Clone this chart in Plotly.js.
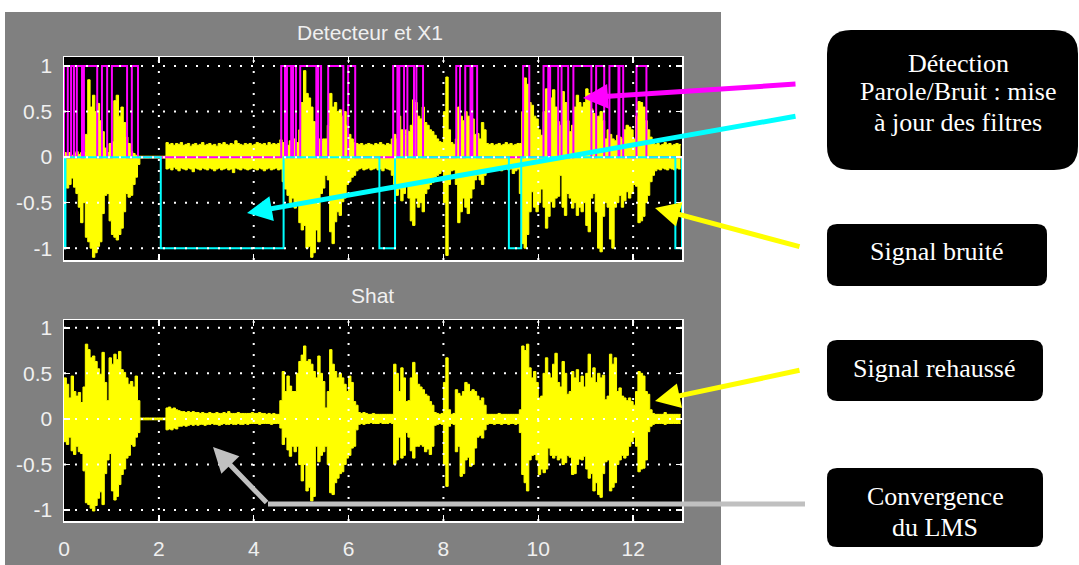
<!DOCTYPE html>
<html>
<head>
<meta charset="utf-8">
<script src="https://cdn.plot.ly/plotly-3.0.1.min.js"></script>
<style>
  html, body { margin:0; padding:0; background:#ffffff; }
  #wrap { position:relative; width:1079px; height:565px; overflow:hidden; }
  #fig { position:absolute; left:5px; top:12px; width:716px; height:553px; background:#808080; }
  #chart { position:absolute; left:0; top:0; width:1079px; height:565px; }
</style>
</head>
<body>
<div id="wrap"><div id="fig"></div><div id="chart"></div></div>
<script>
// ---------------- DATA ----------------
const sampleStep = 0.05;           // seconds between envelope samples
const xTickVals = [0, 2, 4, 6, 8, 10, 12];
const xTickText = ["0", "2", "4", "6", "8", "10", "12"];
const yTickVals = [-1, -0.5, 0, 0.5, 1];
const yTickText = ["-1", "-0.5", "0", "0.5", "1"];

// X1 (noisy signal) upper / lower envelope
const x1Upper = [
 0.05,0.03,0.05,0.02,0.04,0.06,0.03,0.05,0.06,0.25,0.85,0.55,0.68,0.50,0.59,0.40,0.28,0.10,0.05,0.15,
 0.17,0.62,0.68,0.45,0.55,0.38,0.22,0.15,0.06,0.04,0.02,0.01,0.01,0.01,0.01,0.01,0.01,0.01,0.01,0.01,
 0.01,0.01,0.01,0.16,0.14,0.15,0.13,0.15,0.14,0.16,0.13,0.14,0.15,0.12,0.14,0.15,0.13,0.14,0.16,0.13,
 0.14,0.15,0.13,0.14,0.12,0.15,0.14,0.16,0.14,0.13,0.15,0.14,0.18,0.15,0.14,0.13,0.15,0.14,0.15,0.13,
 0.14,0.16,0.15,0.14,0.15,0.13,0.16,0.14,0.15,0.14,0.15,0.19,0.16,0.14,0.13,0.18,0.15,0.20,0.16,0.30,
 0.60,0.95,0.70,0.65,0.55,0.39,0.24,0.20,0.18,0.20,0.20,0.35,0.70,0.55,0.60,0.50,0.52,0.45,0.50,0.35,
 0.25,0.20,0.16,0.15,0.14,0.15,0.13,0.14,0.15,0.14,0.13,0.15,0.14,0.16,0.14,0.13,0.15,0.14,0.20,0.25,
 0.20,0.45,0.30,0.25,0.30,0.28,0.35,0.63,0.60,0.45,0.42,0.55,0.38,0.35,0.30,0.28,0.24,0.20,0.17,0.16,
 0.50,0.88,0.30,0.16,0.14,0.20,0.55,0.45,0.40,0.50,0.45,0.35,0.42,0.25,0.26,0.20,0.38,0.30,0.15,0.14,
 0.15,0.13,0.14,0.15,0.13,0.14,0.16,0.14,0.15,0.13,0.14,0.15,0.15,0.50,0.87,0.80,0.60,0.57,0.45,0.42,
 0.30,0.24,0.50,0.75,0.60,0.65,0.74,0.55,0.39,0.35,0.72,0.60,0.40,0.28,0.35,0.55,0.68,0.60,0.55,0.60,
 0.75,0.70,0.53,0.48,0.41,0.45,0.50,0.40,0.20,0.30,0.25,0.20,0.18,0.24,0.22,0.20,0.30,0.35,0.33,0.30,
 0.20,0.45,0.61,0.60,0.55,0.40,0.30,0.22,0.17,0.14,0.15,0.13,0.14,0.16,0.14,0.15,0.13,0.14,0.15,0.14,
 0.13];
const x1Lower = [
 -0.02,-0.34,-0.30,-0.23,-0.33,-0.40,-0.55,-0.72,-0.50,-0.88,-0.93,-1.00,-1.10,-1.05,-0.98,-0.93,-0.62,-0.42,-0.40,-0.70,
 -0.85,-0.88,-0.91,-0.85,-0.78,-0.60,-0.40,-0.44,-0.42,-0.30,-0.22,-0.08,-0.01,-0.01,-0.01,-0.01,-0.01,-0.01,-0.01,-0.01,
 -0.01,-0.01,-0.01,-0.13,-0.12,-0.14,-0.11,-0.13,-0.15,-0.12,-0.13,-0.14,-0.12,-0.13,-0.16,-0.12,-0.13,-0.14,-0.12,-0.13,
 -0.14,-0.12,-0.13,-0.15,-0.13,-0.12,-0.14,-0.13,-0.12,-0.14,-0.13,-0.17,-0.12,-0.13,-0.14,-0.12,-0.13,-0.14,-0.13,-0.12,
 -0.13,-0.14,-0.12,-0.13,-0.15,-0.13,-0.12,-0.14,-0.13,-0.12,-0.14,-0.13,-0.27,-0.35,-0.42,-0.50,-0.45,-0.56,-0.50,-0.72,
 -0.80,-0.75,-1.00,-0.98,-1.10,-1.05,-0.80,-0.93,-0.40,-0.34,-0.20,-0.25,-0.82,-0.95,-0.71,-0.60,-0.64,-0.49,-0.45,-0.30,
 -0.27,-0.22,-0.20,-0.15,-0.13,-0.12,-0.14,-0.13,-0.12,-0.14,-0.13,-0.12,-0.14,-0.13,-0.15,-0.12,-0.13,-0.14,-0.20,-0.30,
 -0.42,-0.35,-0.48,-0.40,-0.30,-0.45,-0.70,-0.75,-0.45,-0.55,-0.50,-0.60,-0.40,-0.35,-0.30,-0.28,-0.22,-0.20,-0.18,-0.15,
 -0.50,-1.08,-0.30,-0.15,-0.14,-0.30,-0.72,-0.60,-0.45,-0.55,-0.62,-0.45,-0.35,-0.25,-0.20,-0.25,-0.30,-0.20,-0.13,-0.12,
 -0.13,-0.14,-0.12,-0.13,-0.15,-0.13,-0.12,-0.14,-0.13,-0.18,-0.15,-0.13,-0.40,-0.95,-1.00,-0.85,-0.60,-0.38,-0.55,-0.60,
 -0.50,-0.35,-0.55,-0.78,-0.65,-0.49,-0.55,-0.45,-0.43,-0.20,-0.55,-0.64,-0.40,-0.45,-0.56,-0.50,-0.64,-0.55,-0.60,-0.50,
 -0.75,-0.82,-0.45,-0.40,-0.60,-1.00,-1.04,-0.65,-0.50,-0.55,-0.90,-1.00,-0.55,-0.50,-0.42,-0.55,-0.48,-0.38,-0.45,-0.40,
 -0.30,-0.32,-0.72,-0.70,-0.65,-0.50,-0.42,-0.27,-0.20,-0.15,-0.13,-0.14,-0.12,-0.13,-0.14,-0.12,-0.13,-0.14,-0.12,-0.13,
 -0.13];

// Shat (enhanced signal) upper / lower envelope
const shatUpper = [
 0.45,0.38,0.23,0.47,0.30,0.25,0.29,0.18,0.35,0.82,0.76,0.67,0.69,0.63,0.55,0.49,0.73,0.40,0.20,0.67,
 0.60,0.71,0.65,0.74,0.54,0.51,0.45,0.38,0.41,0.35,0.47,0.20,0.01,0.01,0.01,0.01,0.01,0.01,0.01,0.01,
 0.01,0.01,0.01,0.12,0.13,0.11,0.12,0.10,0.09,0.08,0.08,0.07,0.08,0.07,0.08,0.07,0.07,0.06,0.07,0.06,
 0.06,0.07,0.06,0.06,0.07,0.06,0.06,0.07,0.06,0.08,0.06,0.06,0.06,0.07,0.06,0.06,0.06,0.06,0.06,0.07,
 0.06,0.06,0.07,0.06,0.06,0.05,0.06,0.05,0.06,0.05,0.05,0.20,0.52,0.30,0.47,0.36,0.30,0.30,0.50,0.63,
 0.70,0.80,0.63,0.65,0.60,0.52,0.45,0.69,0.50,0.41,0.12,0.30,0.76,0.60,0.52,0.45,0.50,0.45,0.38,0.30,
 0.47,0.40,0.19,0.15,0.07,0.06,0.07,0.06,0.05,0.05,0.06,0.05,0.05,0.05,0.05,0.05,0.05,0.05,0.05,0.60,
 0.50,0.30,0.56,0.45,0.19,0.20,0.45,0.62,0.50,0.38,0.35,0.32,0.27,0.25,0.19,0.15,0.07,0.06,0.05,0.06,
 0.40,0.67,0.10,0.05,0.06,0.32,0.28,0.25,0.30,0.40,0.38,0.30,0.32,0.30,0.25,0.20,0.23,0.15,0.05,0.05,
 0.05,0.05,0.05,0.06,0.05,0.05,0.05,0.05,0.05,0.05,0.05,0.05,0.10,0.80,0.75,0.82,0.56,0.45,0.52,0.40,
 0.23,0.25,0.50,0.67,0.50,0.45,0.60,0.72,0.40,0.35,0.63,0.50,0.27,0.30,0.52,0.45,0.54,0.40,0.47,0.35,
 0.50,0.71,0.45,0.56,0.40,0.50,0.45,0.48,0.21,0.25,0.71,0.60,0.67,0.30,0.34,0.25,0.23,0.20,0.23,0.19,
 0.15,0.30,0.52,0.50,0.47,0.30,0.27,0.10,0.06,0.05,0.05,0.05,0.05,0.07,0.05,0.05,0.05,0.05,0.05,0.05,
 0.05];
const shatLower = [
 -0.25,-0.28,-0.20,-0.35,-0.39,-0.30,-0.36,-0.38,-0.57,-0.92,-0.94,-0.98,-1.01,-0.95,-0.87,-0.80,-0.94,-0.60,-0.45,-0.38,
 -0.79,-0.89,-0.85,-0.72,-0.61,-0.55,-0.43,-0.40,-0.28,-0.30,-0.20,-0.15,-0.01,-0.01,-0.01,-0.01,-0.01,-0.01,-0.01,-0.01,
 -0.01,-0.01,-0.01,-0.12,-0.11,-0.12,-0.10,-0.11,-0.08,-0.08,-0.07,-0.08,-0.07,-0.06,-0.07,-0.06,-0.07,-0.06,-0.06,-0.07,
 -0.06,-0.06,-0.05,-0.06,-0.06,-0.07,-0.06,-0.05,-0.06,-0.06,-0.05,-0.06,-0.06,-0.05,-0.06,-0.06,-0.05,-0.06,-0.05,-0.05,
 -0.05,-0.05,-0.06,-0.05,-0.05,-0.05,-0.05,-0.06,-0.05,-0.05,-0.05,-0.10,-0.28,-0.20,-0.34,-0.41,-0.30,-0.36,-0.30,-0.50,
 -0.68,-0.50,-0.79,-0.75,-0.90,-0.85,-0.30,-0.47,-0.40,-0.36,-0.30,-0.50,-0.81,-0.83,-0.70,-0.65,-0.60,-0.58,-0.50,-0.43,
 -0.40,-0.32,-0.30,-0.12,-0.06,-0.05,-0.06,-0.05,-0.05,-0.04,-0.05,-0.05,-0.05,-0.04,-0.05,-0.05,-0.05,-0.04,-0.05,-0.50,
 -0.45,-0.20,-0.43,-0.40,-0.15,-0.20,-0.35,-0.43,-0.30,-0.30,-0.28,-0.30,-0.36,-0.33,-0.39,-0.30,-0.07,-0.06,-0.05,-0.06,
 -0.50,-0.74,-0.08,-0.05,-0.06,-0.36,-0.30,-0.63,-0.60,-0.45,-0.42,-0.52,-0.50,-0.32,-0.20,-0.18,-0.21,-0.12,-0.06,-0.05,
 -0.05,-0.06,-0.05,-0.05,-0.06,-0.05,-0.05,-0.06,-0.05,-0.05,-0.06,-0.05,-0.15,-0.61,-0.70,-0.79,-0.45,-0.40,-0.39,-0.45,
 -0.61,-0.55,-0.59,-0.55,-0.32,-0.40,-0.43,-0.40,-0.45,-0.43,-0.50,-0.48,-0.40,-0.42,-0.61,-0.60,-0.50,-0.44,-0.45,-0.41,
 -0.55,-0.65,-0.60,-0.79,-0.70,-0.83,-0.86,-0.60,-0.47,-0.45,-0.79,-0.75,-0.70,-0.50,-0.45,-0.40,-0.43,-0.40,-0.30,-0.25,
 -0.20,-0.30,-0.58,-0.55,-0.54,-0.45,-0.14,-0.08,-0.06,-0.05,-0.05,-0.05,-0.05,-0.06,-0.05,-0.05,-0.05,-0.05,-0.05,-0.05,
 -0.05];

// Speech/noise detector: magenta = 1 during these intervals (s)
const speechStart = [0.00,0.15,0.27,0.42,0.80,1.01,1.43, 4.58,4.70,4.83,4.98,5.36,5.57,5.99, 6.94,7.07,7.24,7.43, 8.27,8.46,8.61, 9.68,10.11,10.25,10.49,10.74,11.22,11.50,11.71,12.07];
const speechEnd   = [0.08,0.21,0.38,0.70,0.91,1.33,1.56, 4.66,4.79,4.89,5.32,5.42,5.89,6.14, 7.03,7.17,7.38,7.57, 8.35,8.57,8.71, 9.81,10.21,10.42,10.63,11.12,11.39,11.69,11.79,12.28];
// Noise update: cyan = -1 during these intervals (s)
const noiseStart = [0.00, 2.04, 6.65, 9.38, 12.89];
const noiseEnd   = [0.03, 4.63, 6.98, 9.64, 13.03];
const tEnd = 13.03;

// ---------------- BUILD ----------------
const W = 1079, H = 565;
const px = x => x / W, py = y => 1 - y / H;
const times = x1Upper.map((_, i) => +(i * sampleStep).toFixed(2));

function squareWave(starts, ends, level) {
  const xs = [0], ys = [0];
  for (let i = 0; i < starts.length; i++) {
    xs.push(starts[i], starts[i], ends[i], ends[i]);
    ys.push(0, level, level, 0);
  }
  xs.push(tEnd); ys.push(0);
  return {xs, ys};
}
const mag = squareWave(speechStart, speechEnd, 1);
const cya = squareWave(noiseStart, noiseEnd, -1);

const YEL = '#ffff00';
const sig = {color: YEL, width: 1, shape: 'hv'};
const traces = [
  {x: times, y: x1Lower, xaxis: 'x', yaxis: 'y', mode: 'lines', line: sig},
  {x: times, y: x1Upper, xaxis: 'x', yaxis: 'y', mode: 'lines', line: sig, fill: 'tonexty', fillcolor: YEL},
  {x: mag.xs, y: mag.ys, xaxis: 'x', yaxis: 'y', mode: 'lines', line: {color: '#ff00ff', width: 2}},
  {x: cya.xs, y: cya.ys, xaxis: 'x', yaxis: 'y', mode: 'lines', line: {color: '#00ffff', width: 2}},
  {x: times, y: shatLower, xaxis: 'x2', yaxis: 'y2', mode: 'lines', line: sig},
  {x: times, y: shatUpper, xaxis: 'x2', yaxis: 'y2', mode: 'lines', line: sig, fill: 'tonexty', fillcolor: YEL}
];

const tickFont = {family: 'Liberation Sans, Arial, sans-serif', size: 21, color: '#f0f0f0'};
const xDom = [px(64), px(682)];
function axisBase() {
  return {ticks: 'inside', ticklen: 6, tickwidth: 1.5, tickcolor: '#ffffff',
    showline: true, linecolor: '#ffffff', linewidth: 1.5, mirror: 'ticks',
    showgrid: false, zeroline: false, tickfont: tickFont, fixedrange: true};
}
const layout = {
  width: W, height: H, margin: {l: 0, r: 0, t: 0, b: 0},
  paper_bgcolor: 'rgba(0,0,0,0)', plot_bgcolor: '#000000', showlegend: false,
  xaxis: Object.assign(axisBase(), {domain: xDom, range: [0, tEnd], anchor: 'y', tickvals: xTickVals, showticklabels: false}),
  yaxis: Object.assign(axisBase(), {domain: [py(260), py(57)], range: [-1.13, 1.1], anchor: 'x', tickvals: yTickVals, ticktext: yTickText, ticklabelstandoff: 6}),
  xaxis2: Object.assign(axisBase(), {domain: xDom, range: [0, tEnd], anchor: 'y2', tickvals: xTickVals, ticktext: xTickText, ticklabelstandoff: 8}),
  yaxis2: Object.assign(axisBase(), {domain: [py(521), py(320)], range: [-1.12, 1.085], anchor: 'x2', tickvals: yTickVals, ticktext: yTickText, ticklabelstandoff: 6}),
  shapes: [], annotations: []
};

// dotted grid drawn above traces (MATLAB style)
const gridLine = {color: '#ffffff', width: 2, dash: '2px,9px'};
[['x', 'y'], ['x2', 'y2']].forEach(([xa, ya]) => {
  xTickVals.filter(v => v > 0).forEach(v => layout.shapes.push({type: 'line', layer: 'above', xref: xa, yref: ya + ' domain', x0: v, x1: v, y0: 0, y1: 1, line: gridLine}));
  yTickVals.forEach(v => layout.shapes.push({type: 'line', layer: 'above', xref: xa + ' domain', yref: ya, x0: 0, x1: 1, y0: v, y1: v, line: gridLine}));
});

// rounded black boxes
function roundRect(x0, y0, x1, y1, r) {
  const P = (x, y) => px(x).toFixed(5) + ',' + py(y).toFixed(5);
  return 'M' + P(x0 + r, y0) + ' L' + P(x1 - r, y0) + ' Q' + P(x1, y0) + ' ' + P(x1, y0 + r) +
    ' L' + P(x1, y1 - r) + ' Q' + P(x1, y1) + ' ' + P(x1 - r, y1) + ' L' + P(x0 + r, y1) +
    ' Q' + P(x0, y1) + ' ' + P(x0, y1 - r) + ' L' + P(x0, y0 + r) + ' Q' + P(x0, y0) + ' ' + P(x0 + r, y0) + ' Z';
}
[[827, 30, 1078, 170, 24], [827, 224, 1047, 286, 10], [827, 340, 1043, 401, 10], [827, 468, 1043, 547, 10]].forEach(b => {
  layout.shapes.push({type: 'path', xref: 'paper', yref: 'paper', path: roundRect(...b), fillcolor: '#000000', line: {width: 0}, layer: 'above'});
});

// gray connector segment
layout.shapes.push({type: 'line', xref: 'paper', yref: 'paper', x0: px(805), y0: py(504), x1: px(268), y1: py(504), line: {color: '#c0c0c0', width: 5}, layer: 'above'});

// titles
const titleFont = {family: 'Liberation Sans, Arial, sans-serif', size: 21, color: '#f0f0f0'};
layout.annotations.push({xref: 'paper', yref: 'paper', x: px(370), y: py(32), text: 'Detecteur et X1', showarrow: false, font: titleFont, xanchor: 'center', yanchor: 'middle'});
layout.annotations.push({xref: 'paper', yref: 'paper', x: px(372), y: py(295), text: 'Shat', showarrow: false, font: titleFont, xanchor: 'center', yanchor: 'middle'});

// box texts
const boxFont = {family: 'Liberation Serif, Times New Roman, serif', size: 26, color: '#ffffff'};
[['Détection', 958, 63], ['Parole/Bruit : mise', 958, 92], ['à jour des filtres', 958, 122],
 ['Signal bruité', 937, 252], ['Signal rehaussé', 934, 369], ['Convergence', 935, 496], ['du LMS', 935, 527]].forEach(([t, x, y]) => {
  layout.annotations.push({xref: 'paper', yref: 'paper', x: px(x), y: py(y), text: t, showarrow: false, font: boxFont, xanchor: 'center', yanchor: 'middle'});
});

// arrows: [tailX, tailY, tipX, tipY, color]
[[797, 84, 583, 98, '#ff00ff'], [797, 116, 247, 213, '#00ffff'], [801, 247, 655, 208, '#ffff00'],
 [801, 370, 655, 401, '#ffff00'], [268, 504, 213, 447, '#c0c0c0']].forEach(([tx, ty, hx, hy, c]) => {
  layout.annotations.push({xref: 'paper', yref: 'paper', x: px(hx), y: py(hy), ax: tx - hx, ay: ty - hy,
    axref: 'pixel', ayref: 'pixel', text: '', showarrow: true, arrowhead: 2, arrowsize: 1, arrowwidth: 5, arrowcolor: c, standoff: 0});
});

Plotly.newPlot('chart', traces, layout, {staticPlot: true, displayModeBar: false});
</script>
</body>
</html>
